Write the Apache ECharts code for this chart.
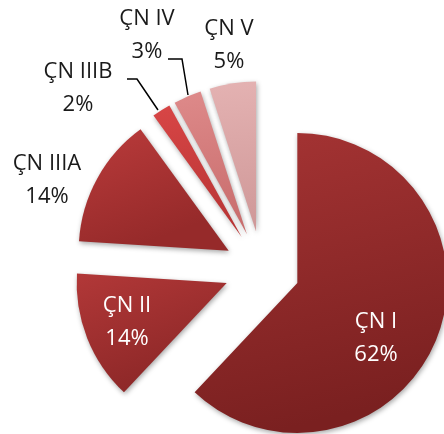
<!DOCTYPE html>
<html><head><meta charset="utf-8">
<script src="https://cdn.jsdelivr.net/npm/echarts@6/dist/echarts.min.js"></script>
<style>html,body{margin:0;padding:0;background:#fff}#c{width:444px;height:434px}</style>
</head><body><div id="c"></div>
<script>
const categories = ['ÇN I', 'ÇN II', 'ÇN IIIA', 'ÇN IIIB', 'ÇN IV', 'ÇN V'];
const values = [62, 14, 14, 2, 3, 5];

const chart = echarts.init(document.getElementById('c'), null, {renderer: 'canvas'});

const topColors = ['#a63434', '#b23838', '#ba3b3b', '#d84646', '#de8a8a', '#e4b2b2'];
const botColors = ['#7a2020', '#8e2828', '#962a2a', '#b83434', '#c86c6c', '#cf9898'];
const insideIdx = [0, 1];
const labelPos = [[376, 338], [127, 322], [47, 180], [78, 88], [147, 35], [229, 45]];
const linePts = {
  3: [[158, 110], [137, 79], [127, 79]],
  4: [[188, 95], [182, 59], [168, 59]]
};

const sliceData = categories.map((name, i) => ({
  name: name,
  value: values[i],
  selected: true,
  itemStyle: {
    color: new echarts.graphic.LinearGradient(0, 0, 0.3, 1, [
      {offset: 0, color: topColors[i]},
      {offset: 1, color: botColors[i]}
    ])
  }
}));

const labelData = categories.map((name, i) => {
  const inside = insideIdx.includes(i);
  return {
    name: name,
    value: values[i],
    label: {
      position: inside ? 'inside' : 'outside',
      color: inside ? '#ffffff' : '#1a1a1a'
    },
    labelLine: {show: !!linePts[i]}
  };
});

chart.setOption({
  animation: false,
  series: [{
    type: 'pie',
    z: 2,
    center: [262, 269],
    radius: 150,
    startAngle: 90,
    clockwise: true,
    selectedMode: 'multiple',
    selectedOffset: 38,
    silent: true,
    itemStyle: {
      shadowBlur: 5,
      shadowColor: 'rgba(0,0,0,0.35)',
      shadowOffsetX: 1,
      shadowOffsetY: 2
    },
    select: {itemStyle: {borderWidth: 0}},
    label: {show: false},
    labelLine: {show: false},
    data: sliceData
  }, {
    type: 'pie',
    z: 10,
    center: [262, 269],
    radius: 150,
    startAngle: 90,
    clockwise: true,
    silent: true,
    percentPrecision: 0,
    avoidLabelOverlap: false,
    itemStyle: {color: 'rgba(0,0,0,0)'},
    label: {
      show: true,
      formatter: '{b}\n{d}%',
      fontFamily: 'Open Sans',
      fontSize: 22,
      lineHeight: 33,
      align: 'center'
    },
    labelLine: {
      show: false,
      lineStyle: {color: '#000', width: 1.5}
    },
    labelLayout: function (p) {
      const pos = labelPos[p.dataIndex];
      const r = {x: pos[0], y: pos[1], align: 'center', verticalAlign: 'middle'};
      if (linePts[p.dataIndex]) r.labelLinePoints = linePts[p.dataIndex];
      return r;
    },
    data: labelData
  }]
});
</script></body></html>
